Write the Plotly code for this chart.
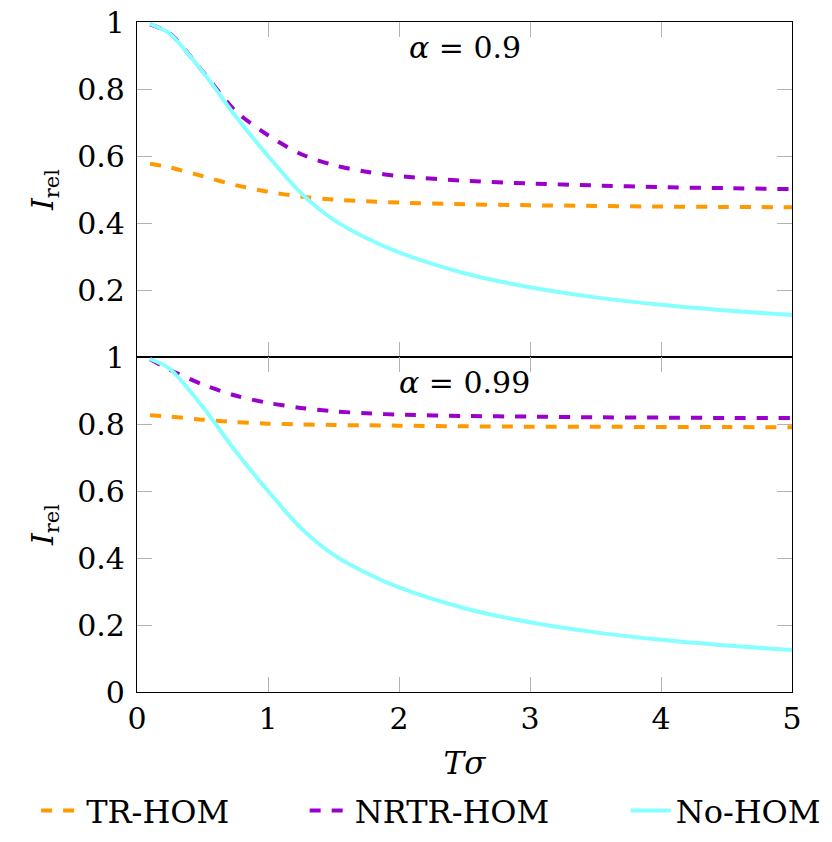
import plotly.graph_objects as go
from plotly.subplots import make_subplots

# Tσ sample points (shared by all curves)
t_sigma = [0.1, 0.25, 0.5, 0.75, 1.0, 1.25, 1.5, 1.75, 2.0, 2.5, 3.0, 3.5, 4.0, 4.5, 5.0]

# alpha = 0.9 (top panel)
tr_hom_a09 = [0.577, 0.566, 0.540, 0.513, 0.493, 0.479, 0.470, 0.465, 0.461, 0.456, 0.453, 0.451, 0.449, 0.448, 0.447]
nrtr_hom_a09 = [0.993, 0.966, 0.853, 0.735, 0.662, 0.606, 0.573, 0.553, 0.540, 0.526, 0.518, 0.512, 0.507, 0.504, 0.501]
no_hom_a09 = [0.994, 0.965, 0.852, 0.720, 0.600, 0.490, 0.410, 0.355, 0.312, 0.250, 0.208, 0.178, 0.156, 0.139, 0.125]

# alpha = 0.99 (bottom panel)
tr_hom_a099 = [0.826, 0.822, 0.813, 0.806, 0.801, 0.799, 0.797, 0.796, 0.795, 0.793, 0.792, 0.792, 0.791, 0.791, 0.790]
nrtr_hom_a099 = [0.993, 0.962, 0.918, 0.885, 0.863, 0.848, 0.838, 0.832, 0.828, 0.824, 0.822, 0.820, 0.819, 0.818, 0.818]
no_hom_a099 = [0.994, 0.965, 0.852, 0.720, 0.600, 0.490, 0.410, 0.355, 0.312, 0.250, 0.208, 0.178, 0.156, 0.139, 0.125]

panel_labels = ["<i>α</i> = 0.9", "<i>α</i> = 0.99"]
series_names = ["TR-HOM", "NRTR-HOM", "No-HOM"]

FONT = "DejaVu Serif"
ORANGE = "#FF9900"
PURPLE = "#9900CC"
CYAN = "#88FFFF"
TICK_GREY = "#b3b3b3"
FS = 30

fig = make_subplots(rows=2, cols=1, shared_xaxes=True, vertical_spacing=0)

estilos = [
    dict(color=ORANGE, width=4, dash="11px,11px"),
    dict(color=PURPLE, width=4, dash="11px,11px"),
    dict(color=CYAN, width=4),
]
legendas = ["legend", "legend2", "legend3"]

paineis = [
    (1, [tr_hom_a09, nrtr_hom_a09, no_hom_a09]),
    (2, [tr_hom_a099, nrtr_hom_a099, no_hom_a099]),
]

for row, curvas in paineis:
    for nome, y, estilo, leg in zip(series_names, curvas, estilos, legendas):
        fig.add_trace(go.Scatter(
            x=t_sigma, y=y,
            mode="lines",
            line=dict(shape="spline", smoothing=0.8, **estilo),
            name=nome,
            legend=leg,
            showlegend=(row == 1),
        ), row=row, col=1)

# labels inside each panel
for row, texto in zip([1, 2], panel_labels):
    fig.add_annotation(
        x=2.5, y=0.925, xref="x" if row == 1 else "x2", yref="y" if row == 1 else "y2",
        text=texto, showarrow=False, font=dict(family=FONT, size=FS, color="black"),
    )

eixo_comum = dict(
    showline=True, linecolor="black", linewidth=1.2, mirror="ticks",
    ticks="inside", ticklen=15, tickwidth=1, tickcolor=TICK_GREY,
    showgrid=False, zeroline=False, ticklabeloverflow="allow",
    tickfont=dict(family=FONT, size=FS, color="black"),
)

fig.update_xaxes(range=[0, 5], tickvals=[0, 1, 2, 3, 4, 5], **eixo_comum)
fig.update_xaxes(showticklabels=False, row=1, col=1)
fig.update_xaxes(
    title=dict(text="<i>Tσ</i>", font=dict(family=FONT, size=FS + 1, color="black"), standoff=17),
    ticklabelstandoff=0, row=2, col=1,
)

fig.update_yaxes(range=[0, 1], ticklabelstandoff=5, **eixo_comum)
fig.update_yaxes(tickvals=[0.2, 0.4, 0.6, 0.8, 1], ticktext=["0.2", "0.4", "0.6", "0.8", "1"], row=1, col=1)
fig.update_yaxes(tickvals=[0, 0.2, 0.4, 0.6, 0.8, 1], ticktext=["0", "0.2", "0.4", "0.6", "0.8", "1"], row=2, col=1)
fig.update_yaxes(
    title=dict(text="<i>I</i><sub>rel</sub>", font=dict(family=FONT, size=FS, color="black"), standoff=14),
)

leg_base = dict(
    orientation="h", yanchor="middle", y=-0.177, xanchor="left",
    font=dict(family=FONT, size=32, color="black"),
    bgcolor="rgba(0,0,0,0)", itemwidth=40,
)

# the page has an 8px body margin, so the figure is a bit smaller than the window
fig.update_layout(
    width=824, height=834,
    font=dict(family=FONT, color="black"),
    margin=dict(l=129, r=40, t=14, b=150, autoexpand=False),
    plot_bgcolor="white", paper_bgcolor="white",
    legend=dict(x=-0.154, **leg_base),
    legend2=dict(x=0.256, **leg_base),
    legend3=dict(x=0.746, **leg_base),
)

fig.write_html("out.html")
